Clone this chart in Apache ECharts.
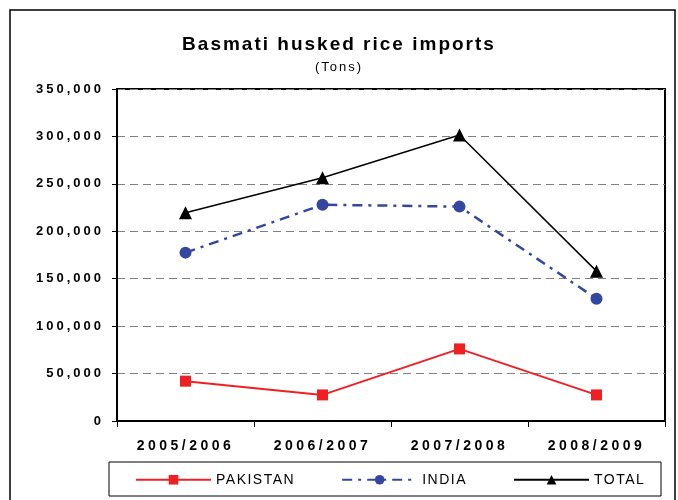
<!DOCTYPE html>
<html>
<head>
<meta charset="utf-8">
<script src="https://cdn.jsdelivr.net/npm/echarts@6/dist/echarts.min.js"></script>
<style>html,body{margin:0;padding:0;background:#fff}#c{width:678px;height:500px}</style>
</head>
<body>
<div id="c"></div>
<script>
var categories = ['2005/2006', '2006/2007', '2007/2008', '2008/2009'];
var pakistan = [42000, 27500, 76000, 27500];
var india = [177500, 228000, 226000, 129000];
var total = [219500, 256500, 301500, 158000];
var yTicks = [0, 50000, 100000, 150000, 200000, 250000, 300000, 350000];

var FONT = 'Liberation Sans';
function fmt(v) { return String(v).replace(/\B(?=(\d{3})+(?!\d))/g, ','); }

// Wide letter spacing like the original export (applied to canvas text drawing and measuring)
(function () {
  var proto = window.CanvasRenderingContext2D && CanvasRenderingContext2D.prototype;
  if (!proto || !('letterSpacing' in proto)) return;
  function spacing(font) {
    var m = /(\d+(?:\.\d+)?)px/.exec(font || '');
    var size = m ? parseFloat(m[1]) : 12;
    var bold = /bold|700/.test(font || '');
    if (bold && size >= 18) return 2;
    if (bold && size >= 14) return 3.5;
    if (bold) return 3;
    if (size >= 14) return 1.5;
    return 2;
  }
  ['measureText', 'fillText', 'strokeText'].forEach(function (fn) {
    var orig = proto[fn];
    proto[fn] = function () {
      try { this.letterSpacing = spacing(this.font) + 'px'; } catch (e) {}
      return orig.apply(this, arguments);
    };
  });
})();

var chart = echarts.init(document.getElementById('c'), null, { renderer: 'canvas' });
chart.setOption({
  backgroundColor: '#fff',
  animation: false,
  title: {
    text: 'Basmati husked rice imports',
    subtext: '(Tons)',
    left: 'center',
    top: 29,
    itemGap: 5,
    textStyle: { fontFamily: FONT, fontWeight: 'bold', fontSize: 19, color: '#000' },
    subtextStyle: { fontFamily: FONT, fontSize: 13, color: '#000' }
  },
  graphic: [
    { type: 'rect', shape: { x: 10, y: 10, width: 665, height: 495 }, style: { fill: 'none', stroke: '#000', lineWidth: 1.5 }, silent: true },
    { type: 'rect', shape: { x: 109, y: 462, width: 552, height: 34 }, style: { fill: 'none', stroke: '#000', lineWidth: 1 }, silent: true }
  ],
  legend: {
    left: 135,
    top: 472,
    itemWidth: 75,
    itemHeight: 12,
    itemGap: 46,
    padding: 0,
    textStyle: { fontFamily: FONT, fontSize: 14, color: '#000' },
    data: ['PAKISTAN', 'INDIA', 'TOTAL']
  },
  grid: { left: 117, right: 13, top: 89, bottom: 79, show: true, borderColor: '#000', borderWidth: 2, backgroundColor: '#fff' },
  xAxis: {
    type: 'category',
    data: categories,
    boundaryGap: true,
    axisLine: { lineStyle: { color: '#000', width: 2 } },
    axisTick: { show: true, length: 6, lineStyle: { color: '#000', width: 1 } },
    axisLabel: { fontFamily: FONT, fontWeight: 'bold', fontSize: 14, color: '#000', margin: 16 }
  },
  yAxis: {
    type: 'value',
    min: 0,
    max: 350000,
    interval: 50000,
    axisLine: { show: true, lineStyle: { color: '#000', width: 2 } },
    axisTick: { show: true, length: 5, lineStyle: { color: '#000' } },
    axisLabel: { fontFamily: FONT, fontWeight: 'bold', fontSize: 13, color: '#000', margin: 13,
      formatter: function (v) { return yTicks.indexOf(v) >= 0 ? fmt(v) : ''; } },
    splitLine: { show: true, lineStyle: { color: '#808080', width: 1.2, type: [8, 5] } }
  },
  series: [
    { name: 'PAKISTAN', type: 'line', data: pakistan, symbol: 'rect', symbolSize: 11,
      itemStyle: { color: '#ee2024' }, lineStyle: { color: '#ee2024', width: 2 }, z: 3 },
    { name: 'INDIA', type: 'line', data: india, symbol: 'circle', symbolSize: 12,
      itemStyle: { color: '#3347a0' }, lineStyle: { color: '#3347a0', width: 2.5, type: [10, 6, 3, 6] }, z: 4 },
    { name: 'TOTAL', type: 'line', data: total, symbol: 'triangle', symbolSize: 13,
      itemStyle: { color: '#000' }, lineStyle: { color: '#000', width: 1.5 }, z: 5 }
  ]
});
</script>
</body>
</html>
